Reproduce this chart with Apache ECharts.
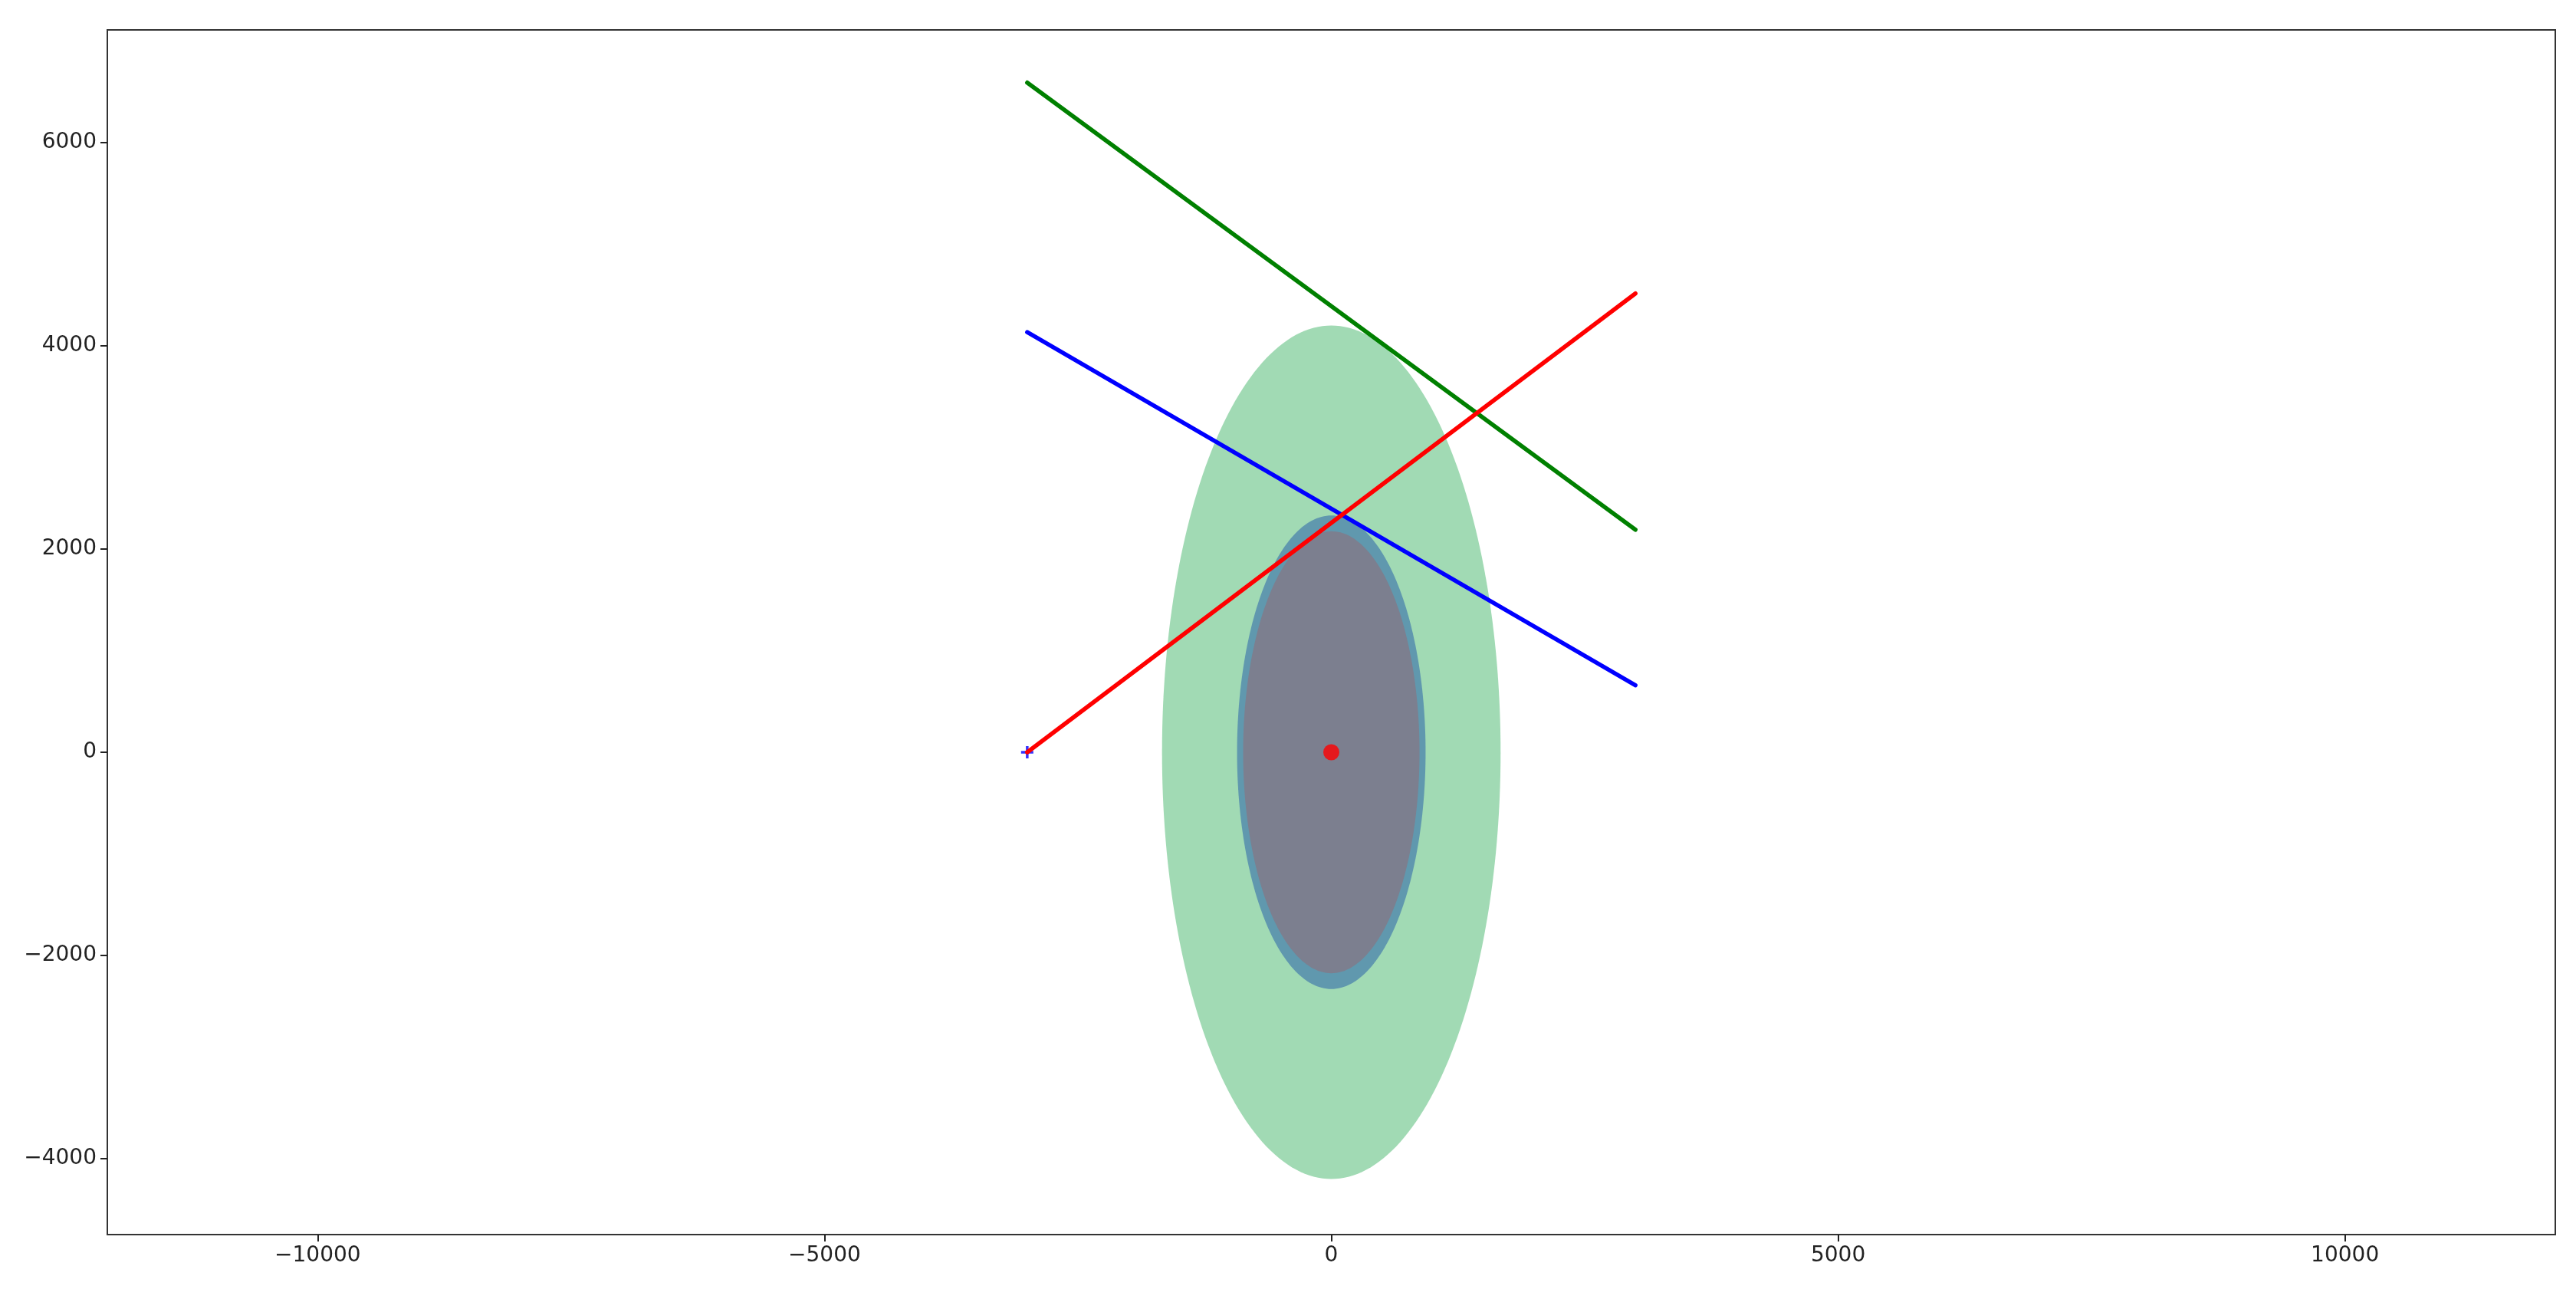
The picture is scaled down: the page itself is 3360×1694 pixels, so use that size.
<!DOCTYPE html>
<html>
<head>
<meta charset="utf-8">
<script src="https://cdn.jsdelivr.net/npm/echarts@6/dist/echarts.min.js"></script>
<style>
html,body{margin:0;padding:0;background:#fff;}
#chart{width:3360px;height:1694px;}
</style>
</head>
<body>
<div id="chart"></div>
<script>
// ---- data ----
const xTicks = [-10000, -5000, 0, 5000, 10000];
const yTicks = [-4000, -2000, 0, 2000, 4000, 6000];
// ellipses: [centerX, centerY, semiAxisX, semiAxisY]
const outerEllipse = [0, 0, 1670, 4200];
const middleEllipse = [0, 0, 930, 2330];
const innerEllipse = [0, 0, 870, 2175];
const lineX = [-3000, 3000];
const greenLineY = [6590, 2190];
const blueLineY = [4135, 660];
const redLineY = [0, 4515];
const centerPoint = [0, 0];
const plusPoint = [-3000, 0];

function pairs(xs, ys) { return xs.map((x, i) => [x, ys[i]]); }
function fmt(v) { return String(v).replace('-', '\u2212'); }

function ellipseSeries(e, color) {
  return {
    type: 'custom',
    coordinateSystem: 'cartesian2d',
    data: [e],
    encode: { x: 0, y: 1 },
    silent: true,
    renderItem: function (params, api) {
      const cx = api.value(0), cy = api.value(1), rx = api.value(2), ry = api.value(3);
      const pts = [];
      const N = 240;
      for (let i = 0; i < N; i++) {
        const t = 2 * Math.PI * i / N;
        pts.push(api.coord([cx + rx * Math.cos(t), cy + ry * Math.sin(t)]));
      }
      return { type: 'polygon', shape: { points: pts }, style: { fill: color, stroke: null } };
    }
  };
}

function lineSeries(ys, color) {
  return {
    type: 'line',
    data: pairs(lineX, ys),
    showSymbol: false,
    symbol: 'none',
    lineStyle: { color: color, width: 5.5, cap: 'round' },
    silent: true
  };
}

const axisLineStyle = { show: true, onZero: false, lineStyle: { color: '#333333', width: 2 } };

const chart = echarts.init(document.getElementById('chart'), null, { renderer: 'canvas' });
chart.setOption({
  animation: false,
  backgroundColor: '#ffffff',
  grid: {
    left: 140, right: 27, top: 39, bottom: 84,
    show: true, borderColor: '#333333', borderWidth: 2, backgroundColor: 'transparent'
  },
  xAxis: {
    type: 'value',
    min: -12075, max: 12075,
    splitLine: { show: false },
    axisLine: axisLineStyle,
    axisTick: { show: true, length: 9, customValues: xTicks, lineStyle: { color: '#222', width: 2 } },
    axisLabel: { customValues: xTicks, formatter: fmt, fontSize: 28, color: '#222', margin: 14, fontFamily: 'DejaVu Sans' }
  },
  yAxis: {
    type: 'value',
    min: -4747, max: 7109,
    splitLine: { show: false },
    axisLine: axisLineStyle,
    axisTick: { show: true, length: 9, customValues: yTicks, lineStyle: { color: '#222', width: 2 } },
    axisLabel: { customValues: yTicks, formatter: fmt, fontSize: 28, color: '#222', margin: 14, fontFamily: 'DejaVu Sans' }
  },
  series: [
    ellipseSeries(outerEllipse, '#a1dab4'),
    ellipseSeries(middleEllipse, '#6098ae'),
    ellipseSeries(innerEllipse, '#7c7f8f'),
    lineSeries(greenLineY, '#008000'),
    lineSeries(blueLineY, '#0000ff'),
    lineSeries(redLineY, '#ff0000'),
    {
      type: 'scatter',
      data: [plusPoint],
      symbol: 'path://M-0.22,-1 L0.22,-1 L0.22,-0.22 L1,-0.22 L1,0.22 L0.22,0.22 L0.22,1 L-0.22,1 L-0.22,0.22 L-1,0.22 L-1,-0.22 L-0.22,-0.22 Z',
      symbolSize: 16,
      itemStyle: { color: '#0000ff' },
      silent: true
    },
    {
      type: 'scatter',
      data: [centerPoint],
      symbol: 'circle',
      symbolSize: 21,
      itemStyle: { color: '#ff0000' },
      silent: true
    }
  ]
});
</script>
</body>
</html>
